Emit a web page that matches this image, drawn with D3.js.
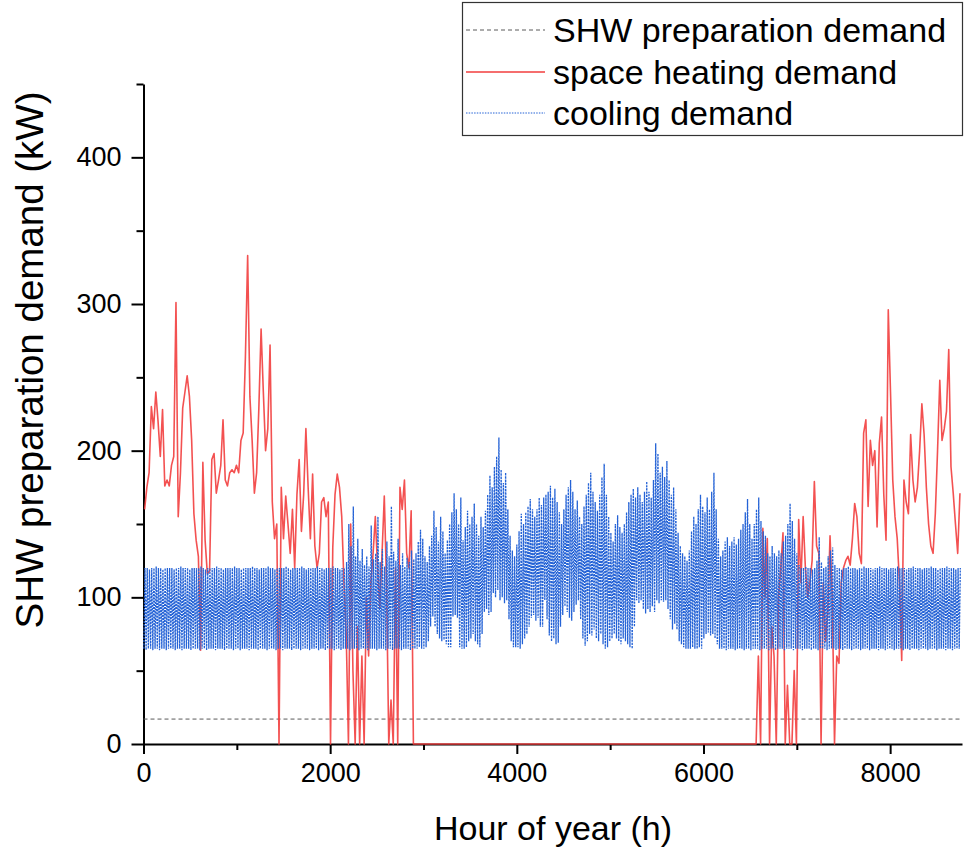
<!DOCTYPE html>
<html><head><meta charset="utf-8">
<script src="https://cdn.jsdelivr.net/npm/d3@7"></script>
<style>body{margin:0;background:#fff}svg{display:block}text{font-family:"Liberation Sans",Arial,sans-serif;fill:#000}</style>
</head><body><svg id="c" width="964" height="850"></svg>
<script>
// ---- data ----
const xMajor = [0, 2000, 4000, 6000, 8000];
const xMinor = [1000, 3000, 5000, 7000];
const yMajor = [0, 100, 200, 300, 400];
const yMinor = [50, 150, 250, 350, 450];
const seriesNames = ["SHW preparation demand", "space heating demand", "cooling demand"];
const xTitle = "Hour of year (h)";
const yTitle = "SHW preparation demand (kW)";

// SHW preparation demand (constant, kW)
const shwDemand = [17, 17];
const shwHours = [0, 8760];

// space heating demand, one value per day (kW): days 0-120 and days 273-364 (zero in between)
const heatSpring = [
160,175,185,230,215,240,220,196,228,176,
180,176,190,196,301,155,185,229,240,251,
237,207,157,139,128,64,192,139,116,118,
194,198,171,180,190,221,180,176,185,187,
185,190,185,207,212,264,333,237,207,171,
185,229,283,240,200,215,272,165,140,150,
0,175,140,169,150,130,160,120,170,194,
145,170,215,175,140,184,135,120,130,165,
168,155,165,0,134,170,184,175,155,110,
75,0,150,50,0,80,0,60,0,100,
60,110,130,155,120,93,130,169,110,0,
30,0,120,0,175,160,180,130,120,159,
0];
const heatFallStartDay = 273;
const heatFall = [
0,60,0,147,100,140,0,80,60,0,
100,120,144,0,40,0,0,50,0,153,
110,155,120,100,110,125,179,135,130,0,
110,70,90,142,100,0,60,55,110,120,
125,128,122,140,164,155,130,123,212,221,
162,207,190,200,148,205,223,170,139,296,
240,180,155,140,110,57,180,165,157,211,
180,165,175,200,232,211,175,150,135,130,
157,200,248,207,215,227,269,189,171,150,
130,171];

// cooling demand: daily maximum and minimum (kW)
const coolMax = [
120,120,119,120,120,121,120,120,119,120,
120,120,120,119,120,120,121,120,120,120,
119,120,120,120,120,121,120,119,120,120,
120,120,121,120,120,119,120,120,120,120,
121,120,120,119,120,120,120,120,121,120,
120,119,120,120,120,121,120,120,119,120,
120,120,120,121,120,119,120,120,120,120,
121,120,119,120,120,120,120,121,120,120,
119,120,120,120,121,120,120,119,120,120,
124,150,135,162,128,140,125,133,122,128,
121,149,126,130,155,124,133,121,138,128,
162,131,125,140,122,130,121,127,124,132,
126,130,138,146,140,128,124,135,142,159,
148,138,155,145,130,139,150,158,171,160,
150,168,139,148,159,150,155,164,150,142,
155,148,159,170,183,175,189,196,209,187,
178,185,160,142,132,128,136,145,157,150,
158,162,167,160,155,160,168,163,168,170,
172,176,168,174,165,158,150,160,170,175,
180,172,160,166,155,150,162,170,178,185,
172,165,159,170,182,191,170,155,144,138,
150,156,148,144,150,158,165,170,174,168,
175,170,165,172,179,172,168,180,205,198,
185,189,182,193,180,170,175,160,144,135,
130,128,125,132,145,155,150,160,170,162,
158,168,160,172,185,160,140,128,132,138,
141,135,138,141,136,140,146,150,158,167,
150,140,150,160,168,152,145,142,130,128,
135,130,128,132,130,138,142,150,164,152,
140,130,122,120,120,121,120,120,119,120,
125,141,124,120,121,128,132,134,122,120,
120,119,120,120,121,120,120,120,119,120,
120,121,120,120,120,119,120,120,121,120,
120,120,119,120,120,120,121,120,120,120,
119,120,120,121,120,120,120,119,120,120,
120,121,120,120,119,120,120,120,121,120,
120,120,119,120,120];
const coolMin = [
65,64,65,65,64,65,65,64,65,65,
64,65,65,65,64,65,65,64,65,65,
65,64,65,65,65,64,65,65,64,65,
65,65,64,65,65,65,64,65,65,65,
64,65,65,64,65,65,65,64,65,65,
65,64,65,65,65,64,65,65,65,64,
65,65,64,65,65,65,64,65,65,65,
64,65,65,65,64,65,65,65,64,65,
65,64,65,65,65,64,65,65,64,65,
65,65,64,65,65,65,64,65,65,65,
64,65,65,65,64,65,65,65,64,65,
65,64,65,65,65,64,65,65,65,64,
65,65,65,66,65,65,66,70,80,87,
80,75,72,70,71,68,66,66,87,88,
86,66,65,65,66,70,72,75,70,68,
66,75,90,92,88,90,103,100,105,98,
100,96,98,85,70,66,66,66,65,68,
72,75,80,86,88,84,86,80,80,98,
85,74,70,72,68,69,80,88,94,90,
86,84,90,95,98,85,72,67,70,75,
74,78,72,70,75,68,65,66,70,72,
75,72,70,68,72,70,68,66,65,80,
98,96,98,92,89,92,90,94,90,98,
96,98,97,98,92,85,78,82,78,70,
68,66,65,65,65,66,65,65,66,65,
72,75,76,74,75,72,68,65,65,65,
64,65,65,65,64,65,65,65,64,65,
65,64,65,65,65,64,65,65,65,64,
65,65,64,65,65,65,64,65,65,65,
64,65,65,65,64,65,65,65,64,65,
65,64,65,65,65,64,65,65,65,64,
65,65,64,65,65,65,64,65,65,65,
64,65,65,65,64,65,65,65,64,65,
65,64,65,65,65,64,65,65,65,64,
65,65,64,65,65,65,64,65,65,65,
64,65,65,65,64,65,65,65,64,65,
65,64,65,65,65];

// ---- build point tables ----
const heatPts = heatSpring.map((v, d) => [d * 24 + 12, v])
  .concat(heatFall.map((v, i) => [(heatFallStartDay + i) * 24 + 12, v]));
const coolPts = [];
coolMin.forEach((mn, d) => { coolPts.push([d * 24 + 4, mn]); coolPts.push([d * 24 + 16, coolMax[d]]); });
const shwPts = shwHours.map((h, i) => [h, shwDemand[i]]);

// ---- chart ----
const svg = d3.select('#c');
const x = d3.scaleLinear().domain([0, 8770]).range([143.5, 962]);
const y = d3.scaleLinear().domain([0, 450]).range([744, 84]);

const colors = { shw: '#5a5a5a', heat: '#f23e3e', cool: '#2563d6' };
const line = d3.line().x(d => x(d[0])).y(d => y(d[1]));

// axes
svg.append('g').attr('transform', 'translate(0,744)')
  .call(d3.axisBottom(x).tickValues(xMajor).tickSize(10).tickSizeOuter(0).tickPadding(9).tickFormat(d3.format('d')));
svg.append('g').attr('transform', 'translate(0,744)')
  .call(d3.axisBottom(x).tickValues(xMinor).tickSize(6).tickSizeOuter(0).tickFormat(''))
  .select('.domain').remove();
svg.append('g').attr('transform', 'translate(143.5,0)')
  .call(d3.axisLeft(y).tickValues(yMajor).tickSize(12).tickSizeOuter(0).tickPadding(10));
svg.append('g').attr('transform', 'translate(143.5,0)')
  .call(d3.axisLeft(y).tickValues(yMinor).tickSize(7).tickSizeOuter(0).tickFormat(''))
  .select('.domain').remove();
svg.selectAll('.domain, .tick line').attr('stroke', '#000').attr('stroke-width', 2);
svg.selectAll('.tick text').attr('font-size', 27).attr('fill', '#000')
  .style('font-family', '"Liberation Sans", Arial, sans-serif');

// series
svg.append('path').datum(shwPts).attr('d', line).attr('fill', 'none')
  .attr('stroke', colors.shw).attr('stroke-width', 1).attr('stroke-dasharray', '4,3');
svg.append('path').datum(heatPts).attr('d', line).attr('fill', 'none')
  .attr('stroke', colors.heat).attr('stroke-width', 1.6).attr('stroke-opacity', 0.9).attr('stroke-linejoin', 'round');
svg.append('path').datum(coolPts).attr('d', line).attr('fill', 'none')
  .attr('stroke', colors.cool).attr('stroke-width', 1.3).attr('stroke-dasharray', '2.2,1');

// titles
svg.append('text').attr('x', 553).attr('y', 840).attr('text-anchor', 'middle')
  .attr('font-size', 34).text(xTitle);
svg.append('text').attr('transform', 'translate(43,360) rotate(-90)').attr('text-anchor', 'middle')
  .attr('font-size', 38.5).text(yTitle);

// legend
const lg = svg.append('g');
lg.append('rect').attr('x', 462.5).attr('y', 2.5).attr('width', 500).attr('height', 133)
  .attr('fill', '#fff').attr('stroke', '#333').attr('stroke-width', 1.2);
const legendRows = [
  { name: seriesNames[0], c: colors.shw, dash: '4,3', w: 1, ly: 30 },
  { name: seriesNames[1], c: colors.heat, dash: null, w: 1.5, ly: 72 },
  { name: seriesNames[2], c: colors.cool, dash: '1.5,1.2', w: 1, ly: 113 }
];
legendRows.forEach(r => {
  lg.append('line').attr('x1', 466).attr('x2', 545).attr('y1', r.ly).attr('y2', r.ly)
    .attr('stroke', r.c).attr('stroke-width', r.w).attr('stroke-dasharray', r.dash);
  lg.append('text').attr('x', 553).attr('y', r.ly + 12).attr('font-size', 34).text(r.name);
});
</script></body></html>
